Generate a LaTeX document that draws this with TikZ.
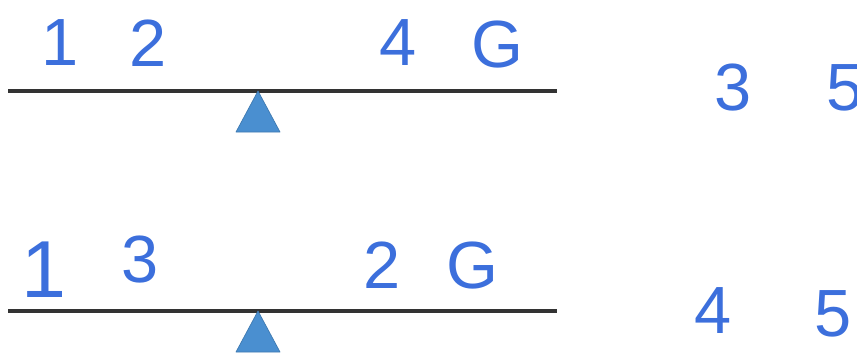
\documentclass[tikz,border=0pt]{standalone}
\usepackage{fontspec}
\setmainfont{Liberation Sans}
\definecolor{penblue}{HTML}{3C6FDC}
\definecolor{pivotblue}{HTML}{4A8FD0}
\definecolor{beamgray}{HTML}{333333}
\begin{document}
\begin{tikzpicture}[x=0.02cm,y=-0.02cm]
\tikzstyle{digit}=[text=penblue,font=\fontsize{38}{38}\selectfont,inner sep=0pt]
\tikzstyle{beam}=[draw=beamgray,line width=2.2pt]
\tikzstyle{pivot}=[fill=pivotblue,draw=pivotblue!85!black,line width=0.4pt,line join=round]
\useasboundingbox (0,0) rectangle (857,356);
% top balance
\coordinate (topleft) at (8,91);
\coordinate (topright) at (557,91);
\coordinate (toptip) at (258,91);
\draw[beam] (topleft) -- (topright);
\draw[pivot] (toptip) -- (236,132) -- (280,132) -- cycle;
\node[digit] (t1) at (60,43) {1};
\node[digit] (t2) at (148,43) {2};
\node[digit] (t4) at (398,43) {4};
\node[digit] (tG) at (497,45) {G};
\node[digit] (t3) at (733,88) {3};
\node[digit] (t5) at (845,88) {5};
% bottom balance
\coordinate (botleft) at (8,311);
\coordinate (botright) at (557,311);
\coordinate (bottip) at (258,311);
\draw[beam] (botleft) -- (botright);
\draw[pivot] (bottip) -- (236,352) -- (280,352) -- cycle;
\node[digit,font=\fontsize{46}{46}\selectfont] (b1) at (44,270) {1};
\node[digit] (b3) at (140,260) {3};
\node[digit] (b2) at (382,265) {2};
\node[digit] (bG) at (472,266) {G};
\node[digit] (b4) at (713,311) {4};
\node[digit] (b5) at (833,314) {5};
\end{tikzpicture}
\end{document}
